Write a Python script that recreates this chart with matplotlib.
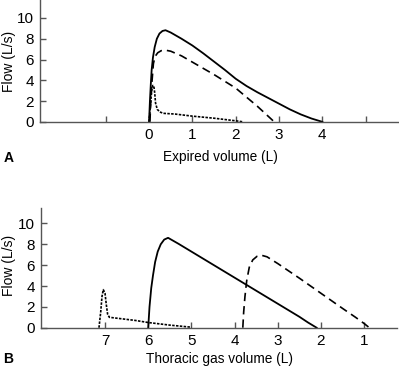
import matplotlib
matplotlib.use("Agg")
import matplotlib.pyplot as plt

plt.rcParams['font.family'] = ['Liberation Sans', 'DejaVu Sans']
plt.rcParams['font.size'] = 9.5

# panel A: flow-volume loops vs expired volume (L)
a_solid_x = [0.0, 0.02, 0.04, 0.06, 0.09, 0.13, 0.18, 0.24, 0.31, 0.38, 0.5, 0.75, 1.0, 1.25,
             1.5, 1.75, 2.0, 2.25, 2.5, 2.75, 3.0, 3.25, 3.5, 3.75, 4.0]
a_solid_y = [0.0, 2.0, 3.6, 5.0, 6.2, 7.2, 8.0, 8.5, 8.75, 8.82, 8.6, 8.0, 7.35, 6.6,
             5.8, 5.0, 4.15, 3.45, 2.85, 2.3, 1.75, 1.2, 0.72, 0.32, 0.0]

a_dash_x = [0.02, 0.04, 0.07, 0.1, 0.14, 0.2, 0.28, 0.38, 0.5, 0.75, 1.0, 1.5, 2.0, 2.5, 2.89]
a_dash_y = [0.0, 2.0, 4.0, 5.6, 6.3, 6.65, 6.85, 6.9, 6.8, 6.35, 5.75, 4.55, 3.25, 1.5, 0.0]

a_dot_x = [0.0, 0.03, 0.06, 0.085, 0.11, 0.13, 0.15, 0.19, 0.25, 0.33, 0.6, 1.0, 1.5, 2.0, 2.17]
a_dot_y = [0.0, 1.5, 3.0, 3.5, 3.45, 2.8, 1.8, 1.2, 0.95, 0.82, 0.75, 0.55, 0.35, 0.1, 0.0]

# panel B: same loops vs thoracic gas volume (L)
b_solid_x = [6.0, 5.97, 5.93, 5.89, 5.84, 5.78, 5.71, 5.63, 5.54, 5.3, 4.8, 4.0, 3.0, 2.5, 2.3, 2.1]
b_solid_y = [0.0, 2.0, 3.8, 5.0, 6.3, 7.3, 8.0, 8.45, 8.62, 8.05, 6.8, 4.8, 2.3, 1.05, 0.5, 0.0]

b_dash_x = [3.81, 3.79, 3.76, 3.72, 3.66, 3.58, 3.48, 3.38, 3.25, 3.0, 2.5, 2.0, 1.5, 1.2, 1.0, 0.88]
b_dash_y = [0.0, 1.5, 3.0, 4.5, 5.8, 6.5, 6.85, 6.95, 6.8, 6.15, 4.75, 3.3, 1.85, 1.0, 0.4, 0.0]

b_dot_x = [7.14, 7.1, 7.07, 7.04, 7.0, 6.97, 6.94, 6.9, 6.7, 6.3, 6.0, 5.5, 5.0]
b_dot_y = [0.0, 1.5, 3.0, 3.65, 3.3, 2.2, 1.3, 1.0, 0.9, 0.7, 0.5, 0.25, 0.05]

a_ticks = [-1, 0, 1, 2, 3, 4, 5]
a_ticklabels = ['', '0', '1', '2', '3', '4', '']
b_ticks = [7, 6, 5, 4, 3, 2, 1]
y_ticks = [0, 2, 4, 6, 8, 10]

axis_col = '#555555'

fig = plt.figure(figsize=(3.99, 3.67), dpi=100)
ax1 = fig.add_axes([0.100, 0.668, 0.900, 0.332])
ax2 = fig.add_axes([0.103, 0.107, 0.892, 0.326])


def style(ax):
    for s in ['top', 'right']:
        ax.spines[s].set_visible(False)
    for s in ['left', 'bottom']:
        ax.spines[s].set_color(axis_col)
        ax.spines[s].set_linewidth(1.0)
    ax.tick_params(direction='in', length=4, width=1.0, color=axis_col, pad=4.5,
                   labelsize=11)
    ax.set_yticks(y_ticks)


ax1.plot(a_solid_x, a_solid_y, color='black', lw=1.3, ls='-')
ax1.plot(a_dash_x, a_dash_y, color='black', lw=1.2, ls=(0, (5, 3)))
ax1.plot(a_dot_x, a_dot_y, color='black', lw=1.2, ls=(0, (1.5, 0.8)))
ax1.set_xlim(-2.52, 5.77)
ax1.set_ylim(0, 11.73)
style(ax1)
ax1.set_xticks(a_ticks)
ax1.set_xticklabels(a_ticklabels)

ax2.plot(b_solid_x, b_solid_y, color='black', lw=1.3, ls='-')
ax2.plot(b_dash_x, b_dash_y, color='black', lw=1.2, ls=(0, (5, 3)))
ax2.plot(b_dot_x, b_dot_y, color='black', lw=1.2, ls=(0, (1.5, 0.8)))
ax2.set_xlim(8.48, 0.24)
ax2.set_ylim(0, 11.47)
style(ax2)
ax2.set_xticks(b_ticks)
ax2.set_xticklabels([str(t) for t in b_ticks])

fig.text(9 / 399, 1 - 61 / 367, 'Flow (L/s)', fontsize=10, rotation=90,
         ha='center', va='center')
fig.text(9 / 399, 1 - 265 / 367, 'Flow (L/s)', fontsize=10, rotation=90,
         ha='center', va='center')
fig.text(220 / 399, 1 - 157 / 367, 'Expired volume (L)', fontsize=9.8,
         ha='center', va='center')
fig.text(219 / 399, 1 - 359 / 367, 'Thoracic gas volume (L)', fontsize=9.8,
         ha='center', va='center')
fig.text(0.008, 1 - 158 / 367, 'A', fontsize=10, fontweight='bold', va='center')
fig.text(0.008, 1 - 359 / 367, 'B', fontsize=10, fontweight='bold', va='center')

fig.savefig('out.png', dpi=100)
